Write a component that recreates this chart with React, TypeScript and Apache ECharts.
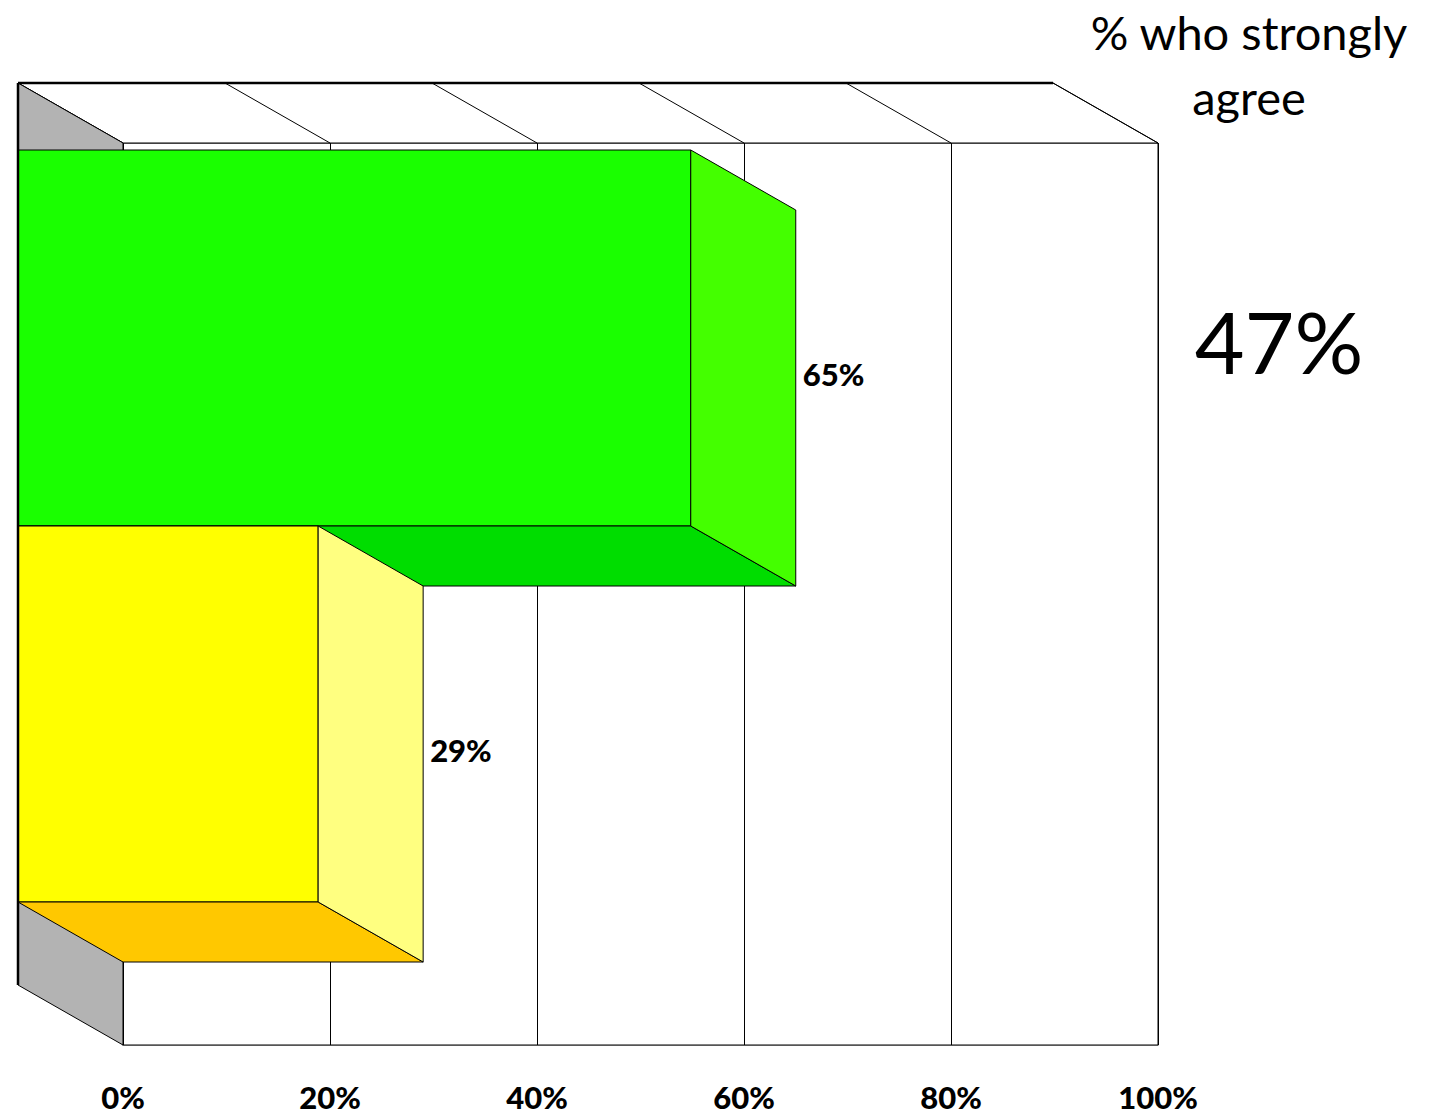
import React, { useEffect, useRef } from "react";
import * as echarts from "echarts";

// ---- data ----
const categories = ["Agree"];
const seriesNames = ["Strongly agree", "Somewhat agree"];
const greenValues = [65];
const yellowValues = [29];
const tickValues = [0, 20, 40, 60, 80, 100];
const headlineTitle = "% who strongly\nagree";
const headlineValue = "47%";

// ---- style constants ----
const DX = -105; // depth offset (px)
const DY = -60;
const BAR_RATIO = 376 / 902;
const OFFSET_RATIO = 8 / 902;
const LABEL_SHIFT = 6;
const FONT = "Lato, 'Open Sans', sans-serif";
const STROKE = "#000";

function makeBar(front: string, side: string, bottom: string, slot: number) {
  return (params: any, api: any) => {
    const v = api.value(0);
    const c = api.value(1);
    const start = api.coord([0, c]);
    const end = api.coord([v, c]);
    const band = api.size([0, 1])[1];
    const h = band * BAR_RATIO;
    const top = start[1] - band * OFFSET_RATIO + (slot - 1) * h;
    const bot = top + h;
    const x0 = start[0];
    const x1 = end[0];
    return {
      type: "group",
      children: [
        {
          type: "rect",
          shape: { x: x0 + DX, y: top + DY, width: x1 - x0, height: h },
          style: { fill: front, stroke: STROKE, lineWidth: 1 },
        },
        {
          type: "polygon",
          shape: { points: [[x0 + DX, bot + DY], [x1 + DX, bot + DY], [x1, bot], [x0, bot]] },
          style: { fill: bottom, stroke: STROKE, lineWidth: 1 },
        },
        {
          type: "polygon",
          shape: { points: [[x1 + DX, top + DY], [x1, top], [x1, bot], [x1 + DX, bot + DY]] },
          style: { fill: side, stroke: STROKE, lineWidth: 1 },
        },
        {
          type: "text",
          style: {
            text: v + "%",
            x: x1 + 7,
            y: (top + DY + bot) / 2 + LABEL_SHIFT,
            align: "left",
            verticalAlign: "middle",
            fontSize: 31,
            fontWeight: 900,
            fontFamily: FONT,
            fill: "#000",
          },
        },
      ],
    };
  };
}

function frameRender(params: any, api: any) {
  const cs = params.coordSys;
  const x0 = cs.x;
  const y0 = cs.y;
  const x1 = cs.x + cs.width;
  const y1 = cs.y + cs.height;
  const children: any[] = [];
  children.push({
    type: "polygon",
    shape: { points: [[x0 + DX, y0 + DY], [x1 + DX, y0 + DY], [x1, y0], [x0, y0]] },
    style: { fill: "#fff", stroke: STROKE, lineWidth: 1 },
  });
  tickValues.forEach((t) => {
    const p = api.coord([t, 0]);
    children.push({
      type: "line",
      shape: { x1: p[0] + DX, y1: y0 + DY, x2: p[0], y2: y0 },
      style: { stroke: STROKE, lineWidth: 1 },
    });
  });
  children.push({
    type: "polygon",
    shape: { points: [[x0 + DX, y0 + DY], [x0, y0], [x0, y1], [x0 + DX, y1 + DY]] },
    style: { fill: "#b3b3b3", stroke: STROKE, lineWidth: 1 },
  });
  return { type: "group", children };
}

function edgeRender(params: any, api: any) {
  const cs = params.coordSys;
  const x0 = cs.x;
  const y0 = cs.y;
  const x1 = cs.x + cs.width;
  const y1 = cs.y + cs.height;
  return {
    type: "group",
    children: [
      {
        type: "line",
        shape: { x1: x0 + DX, y1: y0 + DY, x2: x0 + DX, y2: y1 + DY },
        style: { stroke: STROKE, lineWidth: 2.5 },
      },
      {
        type: "line",
        shape: { x1: x0 + DX, y1: y0 + DY, x2: x1 + DX, y2: y0 + DY },
        style: { stroke: STROKE, lineWidth: 2.5 },
      },
    ],
  };
}

export default function App() {
  const ref = useRef<HTMLDivElement>(null);
  useEffect(() => {
    if (!ref.current) return;
    const chart = echarts.init(ref.current, undefined, { renderer: "svg" });
    chart.setOption({
      animation: false,
      backgroundColor: "#fff",
      grid: {
        left: 123,
        top: 143,
        width: 1035,
        height: 902,
        show: true,
        borderColor: "#000",
        borderWidth: 1,
        backgroundColor: "#fff",
      },
      xAxis: {
        type: "value",
        min: 0,
        max: 100,
        interval: 20,
        axisLine: { show: true, lineStyle: { color: "#555", width: 1 } },
        axisTick: { show: false },
        splitLine: { show: true, lineStyle: { color: "#000", width: 1 } },
        axisLabel: {
          formatter: "{value}%",
          fontSize: 31,
          lineHeight: 30,
          fontWeight: 900,
          fontFamily: FONT,
          color: "#000",
          margin: 37,
        },
      },
      yAxis: {
        type: "category",
        data: categories,
        axisLine: { show: true, lineStyle: { color: "#000" } },
        axisTick: { show: false },
        axisLabel: { show: false },
        splitLine: { show: false },
      },
      series: [
        {
          type: "custom",
          name: "frame",
          renderItem: frameRender,
          data: [[0, 0]],
          silent: true,
          z: 2,
        },
        {
          type: "custom",
          name: seriesNames[0],
          renderItem: makeBar("#1aff00", "#44ff00", "#00dd00", 0),
          data: greenValues.map((v, i) => [v, i]),
          encode: { x: 0, y: 1 },
          z: 3,
        },
        {
          type: "custom",
          name: seriesNames[1],
          renderItem: makeBar("#ffff00", "#ffff80", "#ffc800", 1),
          data: yellowValues.map((v, i) => [v, i]),
          encode: { x: 0, y: 1 },
          z: 4,
        },
        {
          type: "custom",
          name: "edges",
          renderItem: edgeRender,
          data: [[0, 0]],
          silent: true,
          z: 5,
        },
      ],
      graphic: [
        {
          type: "text",
          z: 10,
          style: {
            text: headlineTitle,
            x: 1249,
            y: 64,
            align: "center",
            verticalAlign: "middle",
            fontSize: 47,
            lineHeight: 65,
            fontFamily: FONT,
            fill: "#000",
          },
        },
        {
          type: "text",
          z: 10,
          style: {
            text: headlineValue,
            x: 1279,
            y: 340,
            align: "center",
            verticalAlign: "middle",
            fontSize: 86,
            fontFamily: FONT,
            fill: "#000",
          },
        },
      ],
    });
    return () => chart.dispose();
  }, []);
  return (
    <div
      ref={ref}
      style={{ position: "fixed", left: 0, top: 0, width: 1435, height: 1115 }}
    />
  );
}
